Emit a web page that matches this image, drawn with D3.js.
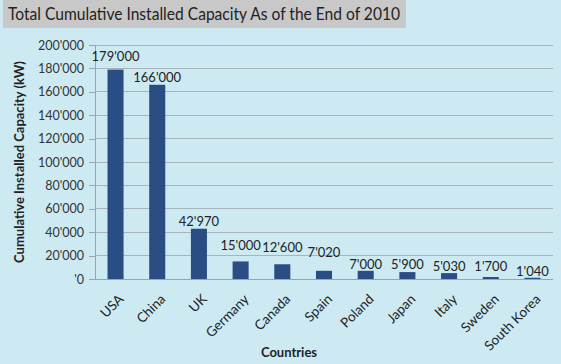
<!DOCTYPE html>
<html><head><meta charset="utf-8">
<script src="https://cdn.jsdelivr.net/npm/d3@7"></script>
<style>
html,body{margin:0;padding:0;background:#cdeaf3;}
svg{display:block;}
text{font-family:Lato,"Open Sans",sans-serif;}
</style></head>
<body>
<svg id="c" width="561" height="364"></svg>
<script>
const countries = ["USA","China","UK","Germany","Canada","Spain","Poland","Japan","Italy","Sweden","South Korea"];
const capacity = [179000,166000,42970,15000,12600,7020,7000,5900,5030,1700,1040];
const labels = ["179'000","166'000","42'970","15'000","12'600","7'020","7'000","5'900","5'030","1'700","1'040"];
const yTicks = [0,20000,40000,60000,80000,100000,120000,140000,160000,180000,200000];
const tickLabels = ["'0","20'000","40'000","60'000","80'000","100'000","120'000","140'000","160'000","180'000","200'000"];

const svg = d3.select("#c");
const W = 561, H = 364;
svg.append("rect").attr("width",W).attr("height",H).attr("fill","#cdeaf3");

// title box
svg.append("rect").attr("x",3).attr("y",0).attr("width",403).attr("height",28).attr("fill","#c8c8c8");
svg.append("text").attr("x",8).attr("y",20).attr("font-size",17.5).attr("fill","#222")
  .attr("textLength",392).attr("lengthAdjust","spacingAndGlyphs")
  .text("Total Cumulative Installed Capacity As of the End of 2010");

const m = {l:95, r:553, t:45, b:279};
const x = d3.scaleBand().domain(countries).range([m.l, m.r]).paddingInner(0.615).paddingOuter(0.3);
const y = d3.scaleLinear().domain([0,200000]).range([m.b, m.t]);

// gridlines
svg.append("g").selectAll("line").data(yTicks.slice(1)).join("line")
  .attr("x1",m.l).attr("x2",m.r).attr("y1",d=>y(d)).attr("y2",d=>y(d))
  .attr("stroke","#a9b3bb").attr("stroke-width",1).attr("shape-rendering","crispEdges");

// y axis
const yAxis = d3.axisLeft(y).tickValues(yTicks).tickSize(6).tickPadding(5)
  .tickFormat((d,i)=>tickLabels[i]);
const gy = svg.append("g").attr("transform",`translate(${m.l},0)`).call(yAxis);
gy.select(".domain").attr("stroke","#9aa4ac").attr("d",`M-6,${m.t}H0V${m.b}`).attr("shape-rendering","crispEdges");
gy.selectAll(".tick line").attr("stroke","#9aa4ac").attr("shape-rendering","crispEdges");
gy.selectAll(".tick text").attr("font-size",12.5).attr("fill","#333").attr("font-family","Lato,sans-serif");

// bars
svg.append("g").selectAll("rect").data(countries).join("rect")
  .attr("x",d=>x(d)).attr("width",x.bandwidth())
  .attr("y",(d,i)=>y(capacity[i])).attr("height",(d,i)=>y(0)-y(capacity[i]))
  .attr("fill","#2a4e84");

// x axis baseline
svg.append("line").attr("x1",m.l).attr("x2",m.r).attr("y1",m.b+0.5).attr("y2",m.b+0.5)
  .attr("stroke","#9aa4ac");

// data labels (lift above bar top, in px)
const lift = [9,3,3,11,12,14,2,3,2,6,2];
svg.append("g").selectAll("text").data(countries).join("text")
  .attr("x",d=>x(d)+x.bandwidth()/2)
  .attr("y",(d,i)=>y(capacity[i])-lift[i])
  .attr("text-anchor","middle").attr("font-size",13).attr("fill","#222")
  .text((d,i)=>labels[i]);

// x labels
svg.append("g").selectAll("text").data(countries).join("text")
  .attr("transform",d=>`translate(${x(d)+x.bandwidth()/2+9},${m.b+21}) rotate(-45)`)
  .attr("text-anchor","end").attr("font-size",13.5).attr("fill","#222")
  .text(d=>d);

// axis titles
svg.append("text").attr("transform",`translate(24,162) rotate(-90)`).attr("text-anchor","middle")
  .attr("font-size",13).attr("font-weight","bold").attr("fill","#222")
  .text("Cumulative Installed Capacity (kW)");
svg.append("text").attr("x",289).attr("y",357).attr("text-anchor","middle")
  .attr("font-size",13).attr("font-weight","bold").attr("fill","#222")
  .text("Countries");
</script>
</body></html>
